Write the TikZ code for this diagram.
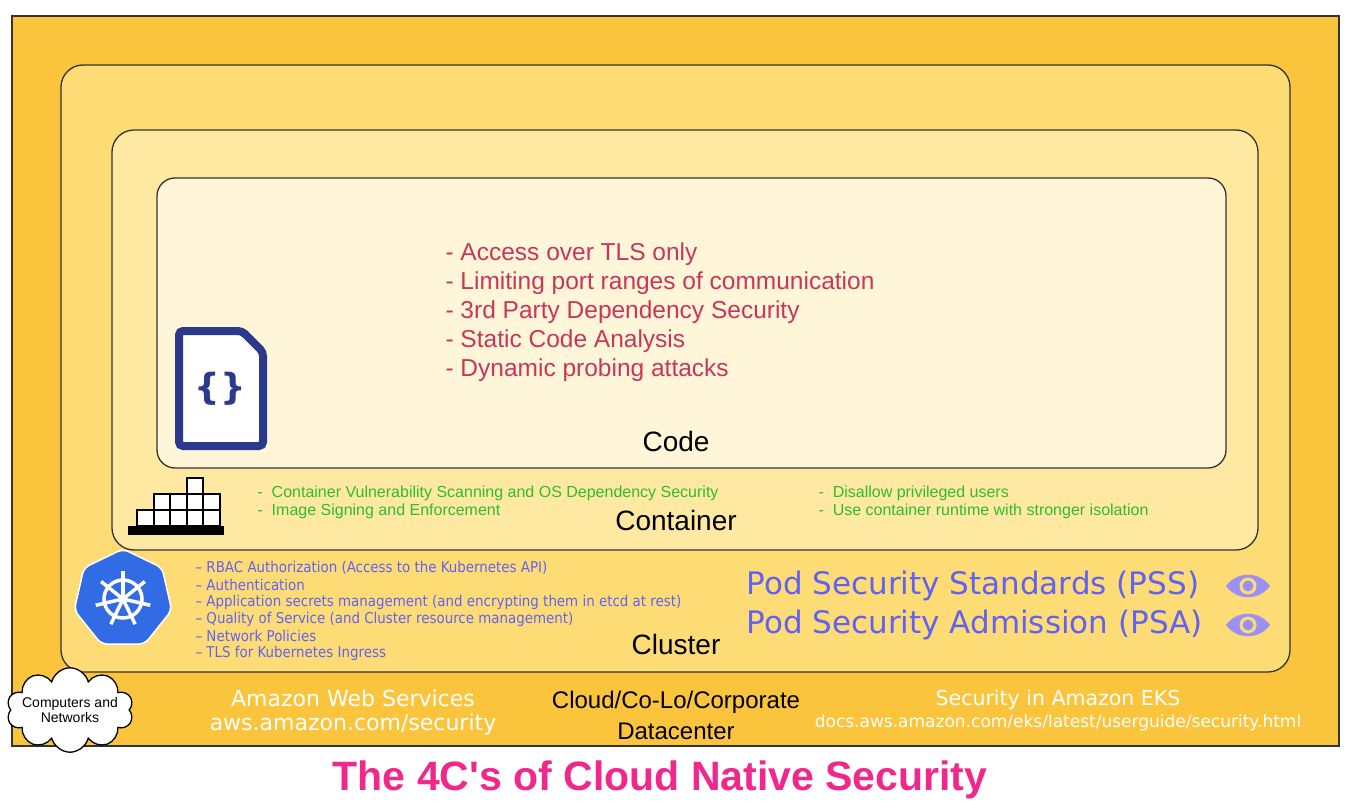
\documentclass[tikz,border=0pt]{standalone}
\usepackage{fontspec}
\setmainfont{Liberation Sans}
\newfontfamily\dv{DejaVu Sans}
\newfontfamily\dvc{DejaVu Sans Condensed}
\usetikzlibrary{shapes.geometric,shapes.symbols}
\definecolor{c1}{HTML}{FBC43D}
\definecolor{c2}{HTML}{FDDC75}
\definecolor{c3}{HTML}{FEE8A2}
\definecolor{c4}{HTML}{FFF5D8}
\definecolor{red1}{HTML}{C8375A}
\definecolor{grn}{HTML}{2DBE2D}
\definecolor{blu}{HTML}{6262F2}
\definecolor{eye}{HTML}{9D90F5}
\definecolor{k8s}{HTML}{326CE5}
\definecolor{dblue}{HTML}{2B3A8C}
\definecolor{mag}{HTML}{F0288C}
\begin{document}
\begin{tikzpicture}[x=1pt,y=-1pt,
  box/.style={draw=black!80,line width=1.3pt,rounded corners=22pt},
  lbl/.style={font=\fontsize{28}{30}\selectfont,anchor=center},
  redt/.style={text=red1,font=\fontsize{24.5}{26}\selectfont,anchor=west},
  grnt/.style={text=grn,font=\fontsize{16}{18}\selectfont,anchor=west},
  blut/.style={text=blu,font=\dvc\fontsize{14.9}{16}\selectfont,anchor=west},
  pst/.style={text=blu,font=\dv\fontsize{31}{33}\selectfont,anchor=west},
  wt/.style={text=white,anchor=center}]
\useasboundingbox[fill=white] (0,0) rectangle (1351,810);
\draw[fill=c1,draw=black!80,line width=1.2pt] (12,16) rectangle (1339,746);
\draw[box,fill=c2] (61,65) rectangle (1290,672);
\draw[box,fill=c3] (112,130) rectangle (1258,550);
\draw[box,fill=c4,rounded corners=18pt] (157,178) rectangle (1226,468);
% red list
\foreach \t [count=\i from 0] in {Access over TLS only,Limiting port ranges of communication,3rd Party Dependency Security,Static Code Analysis,Dynamic probing attacks}
  \node[redt] (r\i) at (442,254+29*\i) {- \t};
\node[lbl] (code) at (676,441) {Code};
\node[lbl] (cont) at (676,520) {Container};
\node[lbl] (clus) at (676,644) {Cluster};
% code icon
\draw[dblue,line width=8pt,rounded corners=4pt,fill=white] (179,331) -- (242,331) -- (263,352) -- (263,446) -- (179,446) -- cycle;
\node[text=dblue,font=\dv\bfseries\fontsize{36}{38}\selectfont] (ci) at (220,389) {\{\}};
% container icon
\fill[black] (128,526) rectangle (224,535);
\foreach \x in {0,...,4} \draw[black,line width=2pt,fill=white] (137+16.5*\x,510) rectangle (153.5+16.5*\x,526);
\foreach \x in {1,...,4} \draw[black,line width=2pt,fill=white] (137+16.5*\x,494) rectangle (153.5+16.5*\x,510);
\draw[black,line width=2pt,fill=white] (186.5,478) rectangle (203,494);
% green
\node[grnt] (g1) at (254,493) {-\ \ Container Vulnerability Scanning and OS Dependency Security};
\node[grnt] (g2) at (254,511) {-\ \ Image Signing and Enforcement};
\node[grnt] (g3) at (815,493) {-\ \ Disallow privileged users};
\node[grnt] (g4) at (815,511) {-\ \ Use container runtime with stronger isolation};
% k8s
\node[regular polygon,regular polygon sides=7,fill=k8s,draw=white,line width=1.5pt,minimum size=100pt,rounded corners=6pt] (k8) at (123,599) {};
\begin{scope}[white,line width=3.5pt]
\draw (123,599) circle (19);
\foreach \a in {0,51.43,...,360} \draw (123,599) -- ++(\a+90:-28);
\fill (123,599) circle (4);
\end{scope}
% blue list
\foreach \t [count=\i from 0] in {RBAC Authorization (Access to the Kubernetes API),Authentication,Application secrets management (and encrypting them in etcd at rest),Quality of Service (and Cluster resource management),Network Policies,TLS for Kubernetes Ingress}
  \node[blut] (b\i) at (192,568+17*\i) {– \t};
\node[pst] (pss) at (743,586) {Pod Security Standards (PSS)};
\node[pst] (psa) at (743,625) {Pod Security Admission (PSA)};
\foreach \y/\n in {586/e1,625/e2}{
  \fill[eye] (1226,\y) .. controls (1237,\y-15) and (1259,\y-15) .. (1270,\y) .. controls (1259,\y+15) and (1237,\y+15) .. (1226,\y) -- cycle;
  \fill[c2] (1248,\y) circle (8.5);
  \node[circle,fill=eye,inner sep=0pt,minimum size=11pt] (\n) at (1248,\y) {};
}
% cloud
\node[cloud,cloud puffs=10,draw=black,line width=1.3pt,fill=white,minimum width=104pt,minimum height=52pt,aspect=2,align=center,font=\fontsize{14}{15}\selectfont,inner sep=-6pt] (cl) at (70,710) {Computers and\\Networks};
\node[wt,font=\dv\fontsize{22}{24}\selectfont] (aws1) at (353,698) {Amazon Web Services};
\node[wt,font=\dv\fontsize{22}{24}\selectfont] (aws2) at (353,724) {aws.amazon.com/security};
\node[font=\fontsize{24}{26}\selectfont] (dc1) at (676,702) {Cloud/Co-Lo/Corporate};
\node[font=\fontsize{24}{26}\selectfont] (dc2) at (676,731) {Datacenter};
\node[wt,font=\dv\fontsize{20.5}{22}\selectfont] (eks1) at (1058,700) {Security in Amazon EKS};
\node[wt,font=\dv\fontsize{17}{18}\selectfont] (eks2) at (1058,723) {docs.aws.amazon.com/eks/latest/userguide/security.html};
\node[text=mag,font=\bfseries\fontsize{41}{43}\selectfont] (title) at (660,780) {The 4C\textquotesingle s of Cloud Native Security};
\end{tikzpicture}
\end{document}
